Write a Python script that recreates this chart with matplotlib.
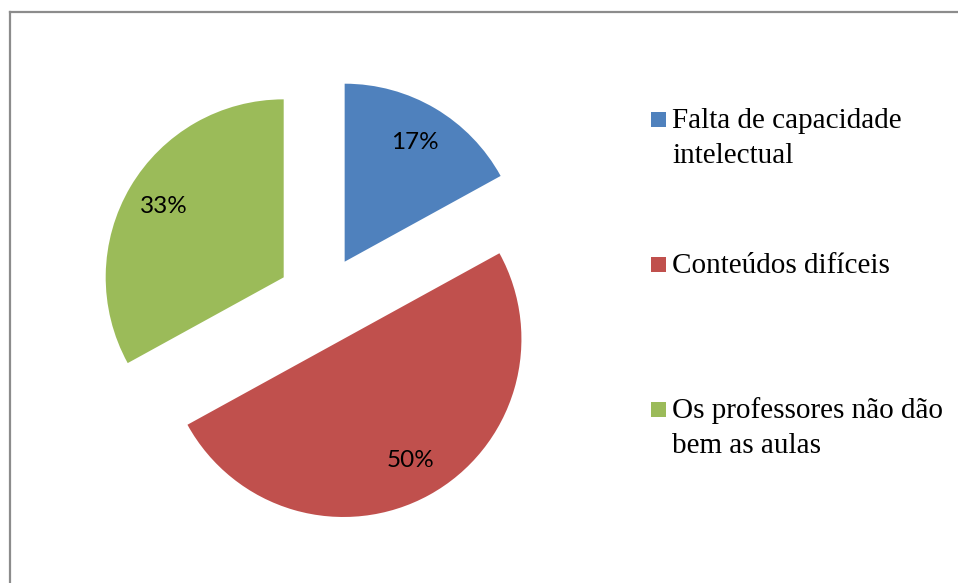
"""Exploded pie: causes of difficulty, with a hand-placed legend on the right."""
import matplotlib.pyplot as plt
from matplotlib.lines import Line2D
from matplotlib.patches import Rectangle

# ---- Data ----
labels = ["Falta de capacidade\nintelectual",
          "Conteúdos difíceis",
          "Os professores não dão\nbem as aulas"]
shares = [17, 50, 33]
colors = ["#4F81BD", "#C0504D", "#9BBB59"]

# ---- Layout (pixels of a 958x583 canvas) ----
W, H = 958, 583
CX, CY, R = 322, 300, 178          # pie centre and radius in px
AX_W = 640                         # pie axes spans x = 0..640, full height


def main():
    fig = plt.figure(figsize=(W / 100, H / 100), dpi=100)
    ax = fig.add_axes([0, 0, AX_W / W, 1])

    ax.pie(shares, colors=colors, startangle=90, counterclock=False,
           explode=[0.25] * len(shares), autopct="%1.0f%%",
           pctdistance=0.78, radius=1,
           textprops=dict(fontsize=17.5, family="Lato", color="black"),
           wedgeprops=dict(linewidth=0))
    ax.set_xlim(-CX / R, (AX_W - CX) / R)
    ax.set_ylim((CY - H) / R, CY / R)
    ax.set_aspect("auto")
    ax.axis("off")

    # ---- Legend (square aligned with first text line) ----
    baselines = [128, 273, 418]
    for lab, col, yb in zip(labels, colors, baselines):
        fig.patches.append(Rectangle((651 / W, 1 - (yb - 1) / H),
                                     15 / W, 15 / H,
                                     transform=fig.transFigure,
                                     facecolor=col, edgecolor="none"))
        for i, line in enumerate(lab.split("\n")):
            fig.text(672 / W, 1 - (yb + 35 * i) / H, line,
                     family="Liberation Serif", fontsize=21,
                     va="baseline", ha="left", color="black")

    # ---- Chart frame (only top and left edges fall inside the crop) ----
    edge = dict(color="#8c8c8c", linewidth=1.6, transform=fig.transFigure)
    fig.add_artist(Line2D([10 / W, 1], [1 - 12 / H, 1 - 12 / H], **edge))
    fig.add_artist(Line2D([10 / W, 10 / W], [0, 1 - 12 / H], **edge))

    fig.savefig("out.png", dpi=100, facecolor="white")
    plt.close(fig)


if __name__ == "__main__":
    main()
